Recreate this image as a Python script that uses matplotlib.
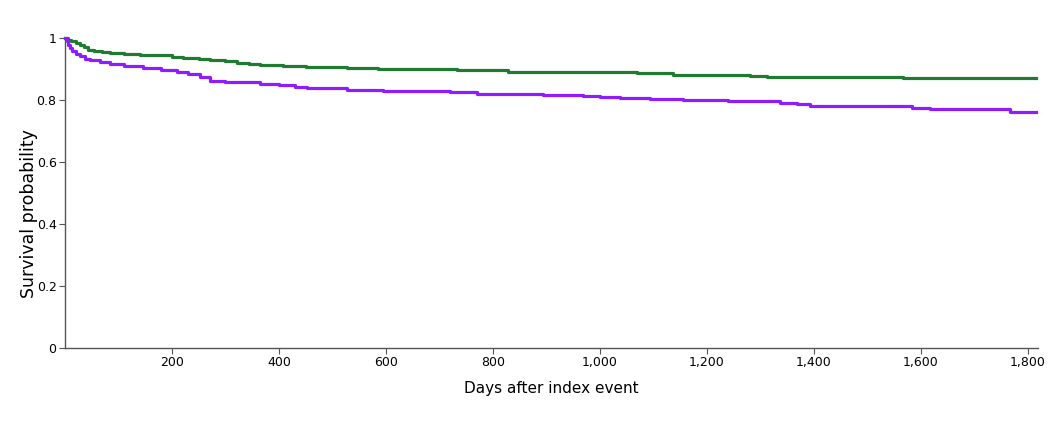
import matplotlib.pyplot as plt
from matplotlib.ticker import FuncFormatter

# Kaplan-Meier style step curves (days, survival)
green_days = [0, 5, 12, 20, 28, 35, 43, 55, 70, 84, 110, 140, 178, 200, 220,
              250, 271, 300, 321, 345, 364, 407, 450, 527, 560, 585, 733, 829,
              1069, 1137, 1280, 1312, 1567, 1815]
green_surv = [1.0, 0.995, 0.99, 0.984, 0.978, 0.971, 0.963, 0.958, 0.955, 0.951,
              0.949, 0.947, 0.944, 0.940, 0.935, 0.931, 0.929, 0.925, 0.921,
              0.917, 0.914, 0.910, 0.907, 0.904, 0.902, 0.900, 0.896, 0.891,
              0.886, 0.882, 0.879, 0.876, 0.871, 0.871]

purple_days = [0, 3, 6, 9, 14, 20, 28, 37, 47, 65, 84, 110, 146, 180, 209, 230,
               252, 271, 300, 345, 364, 400, 430, 452, 527, 594, 720, 770, 893,
               968, 1000, 1037, 1093, 1155, 1240, 1336, 1368, 1393, 1583, 1617,
               1766, 1815]
purple_surv = [1.0, 0.99, 0.978, 0.968, 0.958, 0.950, 0.941, 0.934, 0.928, 0.923,
               0.916, 0.911, 0.903, 0.897, 0.891, 0.884, 0.876, 0.863, 0.860,
               0.857, 0.853, 0.848, 0.843, 0.838, 0.832, 0.828, 0.825, 0.820,
               0.816, 0.813, 0.811, 0.808, 0.805, 0.800, 0.796, 0.791, 0.786,
               0.781, 0.776, 0.771, 0.763, 0.763]

x_ticks = [200, 400, 600, 800, 1000, 1200, 1400, 1600, 1800]
y_ticks = [0, 0.2, 0.4, 0.6, 0.8, 1]

fig = plt.figure(figsize=(10.64, 4.33), dpi=100)
ax = fig.add_axes([0.061, 0.196, 0.915, 0.716])

ax.step(green_days, green_surv, where='post', color='#1f7a32', lw=2.3, clip_on=False)
ax.step(purple_days, purple_surv, where='post', color='#8f1cff', lw=2.3, clip_on=False)

ax.set_xlim(0, 1820)
ax.set_ylim(0, 1)
ax.set_xticks(x_ticks)
ax.set_yticks(y_ticks)
ax.xaxis.set_major_formatter(FuncFormatter(lambda v, p: f'{int(v):,}'))
ax.yaxis.set_major_formatter(FuncFormatter(lambda v, p: f'{v:g}'))

for s in ['top', 'right']:
    ax.spines[s].set_visible(False)
for s in ['left', 'bottom']:
    ax.spines[s].set_color('#555555')
    ax.spines[s].set_linewidth(1.0)
ax.tick_params(length=4, color='#555555', labelsize=9, pad=2)

ax.set_xlabel('Days after index event', fontsize=11, labelpad=8)
ax.set_ylabel('Survival probability', fontsize=12.5)
ax.yaxis.set_label_coords(-0.028, 0.435)

fig.savefig('out.png', dpi=100)
